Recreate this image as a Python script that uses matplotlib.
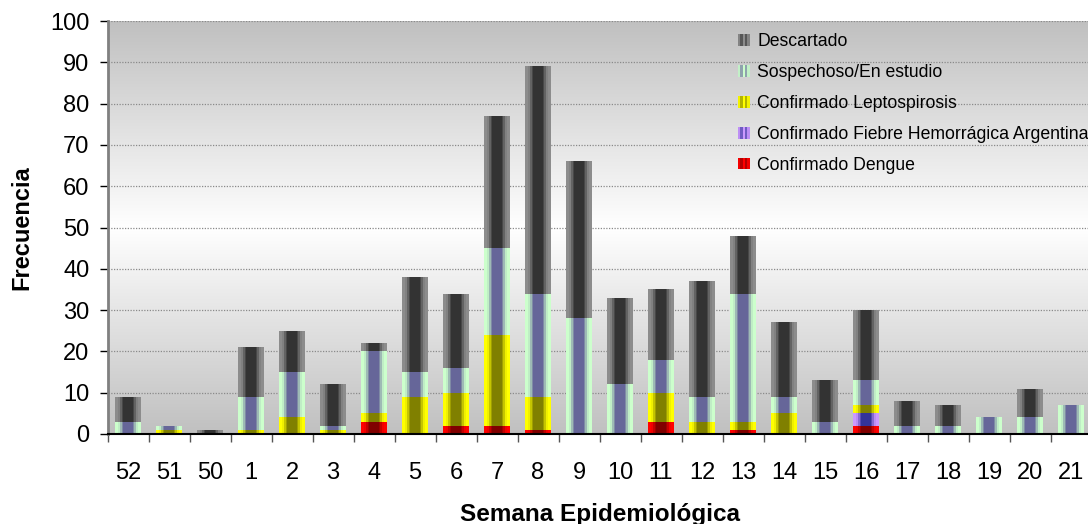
import matplotlib
matplotlib.use("Agg")
import matplotlib.pyplot as plt
import numpy as np
from matplotlib.colors import LinearSegmentedColormap
from matplotlib.patches import Rectangle
from matplotlib.legend_handler import HandlerBase

plt.rcParams['font.family'] = ['Liberation Sans', 'DejaVu Sans']

weeks = ['52', '51', '50', '1', '2', '3', '4', '5', '6', '7', '8', '9',
         '10', '11', '12', '13', '14', '15', '16', '17', '18', '19', '20', '21']
dengue = [0, 0, 0, 0, 0, 0, 3, 0, 2, 2, 1, 0, 0, 3, 0, 1, 0, 0, 2, 0, 0, 0, 0, 0]
fha = [0, 0, 0, 0, 0, 0, 0, 0, 0, 0, 0, 0, 0, 0, 0, 0, 0, 0, 3, 0, 0, 0, 0, 0]
lepto = [0, 1, 0, 1, 4, 1, 2, 9, 8, 22, 8, 0, 0, 7, 3, 2, 5, 0, 2, 0, 0, 0, 0, 0]
sospechoso = [3, 1, 0, 8, 11, 1, 15, 6, 6, 21, 25, 28, 12, 8, 6, 31, 4, 3, 6, 2, 2, 4, 4, 7]
descartado = [6, 0, 1, 12, 10, 10, 2, 23, 18, 32, 55, 38, 21, 17, 28, 14, 18, 10, 17, 6, 5, 0, 7, 0]

series = [
    ("Confirmado Dengue", dengue, '#ff0000', '#800000'),
    ("Confirmado Fiebre Hemorrágica Argentina", fha, '#cc99ff', '#333399'),
    ("Confirmado Leptospirosis", lepto, '#ffff00', '#808000'),
    ("Sospechoso/En estudio", sospechoso, '#ccffcc', '#666699'),
    ("Descartado", descartado, '#8c8c8c', '#333333'),
]


def band(n=50):
    # stepped axial profile: light at the edges, dark in the middle
    t = (np.arange(n) + 0.5) / n
    d = np.abs(2 * t - 1)
    v = np.where(d < 0.36, 1.0, np.where(d < 0.48, 0.75, np.where(d < 0.6, 0.45,
                 np.where(d < 0.8, 0.12, 0.0))))
    return v


class GradientHandler(HandlerBase):
    def __init__(self, edge, center):
        super().__init__()
        self.cmap = LinearSegmentedColormap.from_list('g', [edge, center])

    def create_artists(self, legend, orig_handle, xdescent, ydescent,
                       width, height, fontsize, trans):
        vals = [0.1, 0.6, 1, 0.6, 0.1]
        w = width / len(vals)
        arts = []
        for i, v in enumerate(vals):
            r = Rectangle((-xdescent + i * w, -ydescent), w, height,
                          facecolor=self.cmap(v), edgecolor='none',
                          transform=trans)
            arts.append(r)
        return arts


fig = plt.figure(figsize=(10.88, 5.24), dpi=100)
ax = fig.add_axes([107.5 / 1088, 90 / 524, 24 * 41 / 1088, 413 / 524])

# background: gray - white - gray
yy = np.linspace(0, 1, 256)
bgv = np.abs(yy - 0.5) * 2
bg_cmap = LinearSegmentedColormap.from_list('bg', ['#ffffff', '#c0c0c0'])
ax.imshow(bgv[:, None], extent=[0, 1, 0, 1], transform=ax.transAxes,
          aspect='auto', cmap=bg_cmap, vmin=0, vmax=1, origin='lower', zorder=0)

x = np.arange(len(weeks))
bottom = np.zeros(len(weeks))
prof = band()[None, :]
handles = []
hmap = {}
for label, vals, edge, center in series:
    vals = np.array(vals, dtype=float)
    cmap = LinearSegmentedColormap.from_list(label, [edge, center])
    bars = ax.bar(x, vals, width=0.61, bottom=bottom, color='none',
                  edgecolor='none', zorder=2)
    for p, v in zip(bars.patches, vals):
        if v <= 0:
            continue
        x0, y0 = p.get_x(), p.get_y()
        im = ax.imshow(prof, extent=[x0, x0 + p.get_width(), y0, y0 + p.get_height()],
                       aspect='auto', cmap=cmap, vmin=0, vmax=1,
                       interpolation='nearest', zorder=2)
        im.set_clip_path(p)
    bottom += vals
    h = Rectangle((0, 0), 1, 1, facecolor=edge)
    handles.append((h, label))
    hmap[h] = GradientHandler(edge, center)

ax.set_xlim(-0.5, len(weeks) - 0.5)
ax.set_ylim(0, 100)
ax.set_yticks(np.arange(0, 101, 10))
ax.set_xticks(x)
ax.set_xticklabels(weeks)
ax.set_xticks(np.arange(-0.5, len(weeks), 1), minor=True)

ax.set_axisbelow(True)
ax.yaxis.grid(True, linestyle=(0, (1, 1.2)), color='#8a8a8a', linewidth=0.9)

for s in ['top', 'right']:
    ax.spines[s].set_visible(False)
ax.spines['left'].set_color('#808080')
ax.spines['left'].set_linewidth(2)
ax.spines['bottom'].set_color('black')
ax.spines['bottom'].set_linewidth(1.5)

ax.tick_params(axis='y', direction='out', length=6, width=1, color='black',
               labelsize=17, pad=7)
ax.tick_params(axis='x', which='major', length=0, labelsize=17, pad=20)
ax.tick_params(axis='x', which='minor', direction='out', length=6, width=1,
               color='#555555')

ax.set_ylabel("Frecuencia", fontsize=17, fontweight='bold', va='center')
ax.yaxis.set_label_coords(-0.087, 0.5)
ax.set_xlabel("Semana Epidemiológica", fontsize=17.5, fontweight='bold', va='center')
ax.xaxis.set_label_coords(0.5, -0.194)

handles = handles[::-1]
ax.legend([h for h, _ in handles], [l for _, l in handles], handler_map=hmap,
          loc='upper left', bbox_to_anchor=(0.6408, 0.971), frameon=False,
          fontsize=12.7, handlelength=0.66, handleheight=0.66, handletextpad=0.42,
          labelspacing=0.79, borderpad=0, borderaxespad=0)

fig.savefig("out.png", dpi=100)
